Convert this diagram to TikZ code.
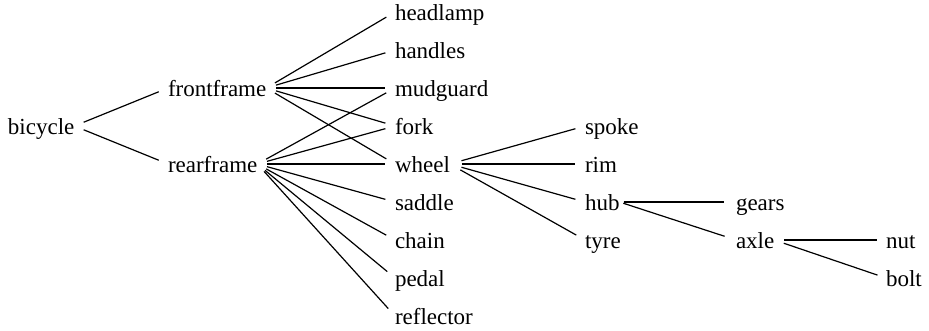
\documentclass[tikz,border=0pt]{standalone}
\usepackage{fontspec}
\setmainfont{Liberation Serif}
\begin{document}
\begin{tikzpicture}[x=1pt,y=-1pt,
  lbl/.style={anchor=west,inner xsep=0pt,inner ysep=0pt,outer sep=0pt,
    text height=16pt,text depth=0pt,font=\fontsize{23}{25}\selectfont},
  edge/.style={line width=1.2pt,shorten <=10pt,shorten >=10pt}]
\useasboundingbox (0,0) rectangle (929,330);
% level 0 and 1
\node[lbl] (bicycle) at (8,126) {bicycle};
\node[lbl] (front) at (168,88) {frontframe};
\node[lbl] (rear) at (168,164) {rearframe};
% level 2
\node[lbl] (headlamp) at (395,12) {headlamp};
\node[lbl] (handles) at (395,50) {handles};
\node[lbl] (mudguard) at (395,88) {mudguard};
\node[lbl] (fork) at (395,126) {fork};
\node[lbl] (wheel) at (395,164) {wheel};
\node[lbl] (saddle) at (395,202) {saddle};
\node[lbl] (chain) at (395,240) {chain};
\node[lbl] (pedal) at (395,278) {pedal};
\node[lbl] (reflector) at (395,316) {reflector};
% level 3
\node[lbl] (spoke) at (585,126) {spoke};
\node[lbl] (rim) at (585,164) {rim};
\node[lbl] (hub) at (585,202) {hub};
\node[lbl] (tyre) at (585,240) {tyre};
% level 4
\node[lbl] (gears) at (736,202) {gears};
\node[lbl] (axle) at (736,240) {axle};
% level 5
\node[lbl] (nut) at (886,240) {nut};
\node[lbl] (bolt) at (886,278) {bolt};
% connectors
\draw[edge] (bicycle.east) -- (front.west);
\draw[edge] (bicycle.east) -- (rear.west);
\foreach \t in {headlamp,handles,mudguard,fork,wheel}
  \draw[edge] (front.east) -- (\t.west);
\foreach \t in {mudguard,fork,wheel,saddle,chain,pedal,reflector}
  \draw[edge] (rear.east) -- (\t.west);
\foreach \t in {spoke,rim,hub,tyre}
  \draw[edge,shorten <=12pt] (wheel.east) -- (\t.west);
\foreach \t in {gears,axle}
  \draw[edge,shorten <=4pt,shorten >=12pt] (hub.east) -- (\t.west);
\foreach \t in {nut,bolt}
  \draw[edge,shorten >=9pt] (axle.east) -- (\t.west);
\end{tikzpicture}
\end{document}
